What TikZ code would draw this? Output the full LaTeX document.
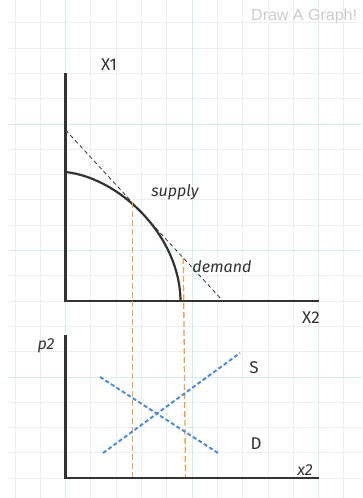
\documentclass[tikz,border=0pt]{standalone}
\usepackage{fontspec}
\setmainfont{Fira Sans}
\usepackage{xcolor}
\usetikzlibrary{positioning}

\definecolor{gridgray}{HTML}{EEEEEE}
\definecolor{gridteal}{HTML}{D4EEEC}
\definecolor{axisgray}{HTML}{333333}
\definecolor{guideorange}{HTML}{F0A04B}
\definecolor{curveblue}{HTML}{4A8CE6}
\definecolor{watermark}{HTML}{CCCCCC}

\begin{document}
\begin{tikzpicture}[
        x=1pt, y=-1pt,
        font=\fontsize{17}{19}\selectfont,
        gridline/.style={draw=gridgray, line width=0.9pt},
        gridmajor/.style={draw=gridteal, line width=0.9pt},
        axisline/.style={draw=axisgray, line width=2.4pt},
        ppf/.style={draw=axisgray, line width=2.2pt},
        tangent/.style={draw=axisgray, line width=0.8pt, dash pattern=on 4pt off 3pt},
        guide/.style={draw=guideorange, line width=1.3pt, dash pattern=on 6pt off 3pt},
        market/.style={draw=curveblue, line width=2pt, dash pattern=on 4pt off 2.5pt},
        lbl/.style={inner sep=0pt, text=axisgray},
        slbl/.style={lbl, font=\fontsize{16}{18}\selectfont\itshape}
    ]
    \useasboundingbox[fill=white] (0,0) rectangle (362,498);

    % grid paper
    \foreach \k in {0,...,13} {
        \draw[gridline] ({15+25.3*\k},0) -- ({15+25.3*\k},498);
    }
    \foreach \k in {0,...,18} {
        \draw[gridline] (8,{22.8+25.3*\k}) -- (362,{22.8+25.3*\k});
    }
    \foreach \k in {2,7,12} {
        \draw[gridmajor] ({15+25.3*\k},0) -- ({15+25.3*\k},498);
    }
    \foreach \k in {4,9,14} {
        \draw[gridmajor] (8,{22.8+25.3*\k}) -- (362,{22.8+25.3*\k});
    }

    \node[anchor=west, inner sep=0pt, text=watermark, font=\fontspec{Liberation Sans}\fontsize{16}{18}\selectfont] (mark) at (251,16) {Draw A Graph!};

    % ---- upper panel: production possibilities ----
    \coordinate (topO) at (65.6,301);
    \coordinate (topY) at (65.6,73);
    \coordinate (topX) at (318.6,301);
    \coordinate (tanA) at (65.6,130);
    \coordinate (tanB) at (223,301);
    \coordinate (ppfA) at (65.6,172);
    \coordinate (ppfB) at (180.5,301);

    \draw[tangent] (tanA) -- (tanB);
    \draw[ppf] (ppfA) .. controls (120,178) and (180,236) .. (ppfB);
    \draw[axisline] (topY) -- (topO) -- (topX);

    \node[lbl] (xone) at (109,65) {X1};
    \node[lbl] (xtwo) at (311,318) {X2};
    \node[slbl] (supply) at (175,192) {supply};
    \node[slbl] (demand) at (222,267) {demand};

    % ---- lower panel: market for good 2 ----
    \coordinate (botO) at (65.6,478);
    \coordinate (botY) at (65.6,335);
    \coordinate (botX) at (318.6,478);

    \coordinate (sA) at (103,453);
    \coordinate (sB) at (240,353);
    \coordinate (dA) at (100,377);
    \coordinate (dB) at (218,453);

    % guides from upper to lower panel
    \coordinate (gA) at (132.3,202);
    \coordinate (gB) at (183.3,258);
    \draw[guide] (gA) -- (gA |- botO);
    \draw[guide] (gB) -- (185.5,478);

    \draw[market] (sA) -- (sB);
    \draw[market] (dA) -- (dB);
    \draw[axisline] (botY) -- (botO) -- (botX);

    \node[slbl] (ptwo) at (46,346) {p2};
    \node[slbl] (xtwob) at (305,470) {x2};
    \node[lbl] (slab) at (254,368) {S};
    \node[lbl] (dlab) at (256,444) {D};
\end{tikzpicture}
\end{document}
